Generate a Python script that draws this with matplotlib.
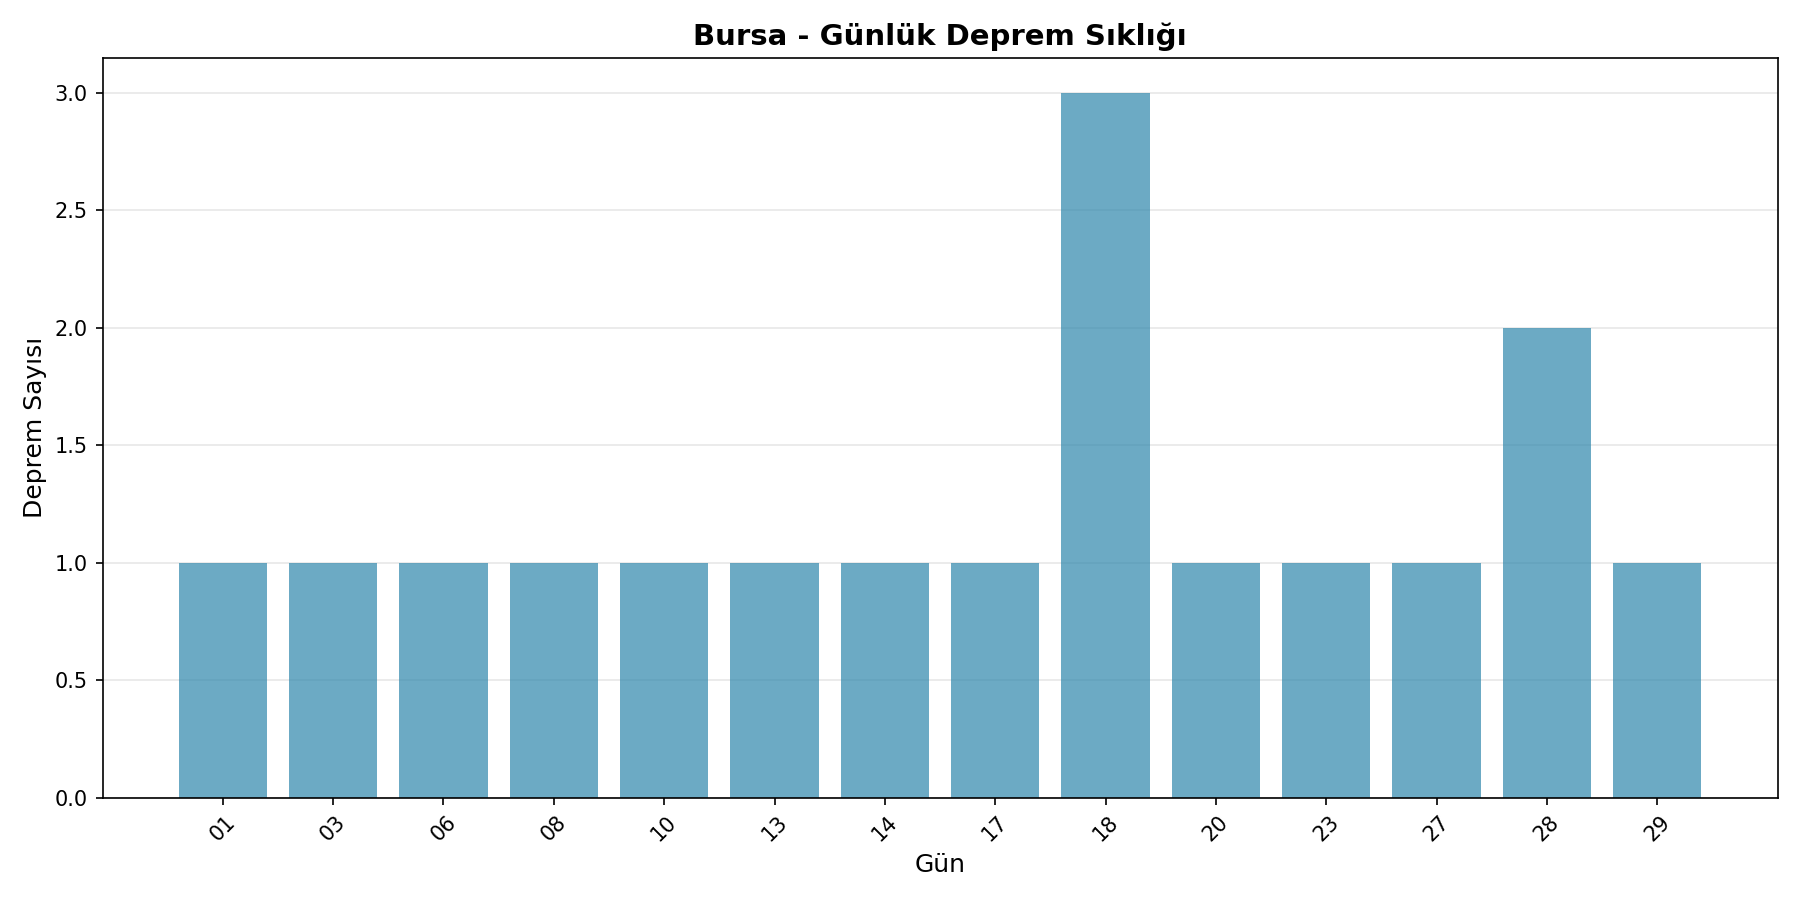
import matplotlib
matplotlib.use("Agg")
import matplotlib.pyplot as plt

days = ["01", "03", "06", "08", "10", "13", "14", "17", "18", "20", "23", "27", "28", "29"]
counts = [1, 1, 1, 1, 1, 1, 1, 1, 3, 1, 1, 1, 2, 1]

fig, ax = plt.subplots(figsize=(12, 6), dpi=150)
ax.bar(days, counts, color="#2E86AB", alpha=0.7)
ax.set_title("Bursa - Günlük Deprem Sıklığı", fontsize=14, fontweight="bold")
ax.set_xlabel("Gün", fontsize=12)
ax.set_ylabel("Deprem Sayısı", fontsize=12)
ax.grid(axis="y", alpha=0.3)
ax.set_axisbelow(True)
plt.xticks(rotation=45)
plt.tight_layout()
fig.savefig("out.png")
